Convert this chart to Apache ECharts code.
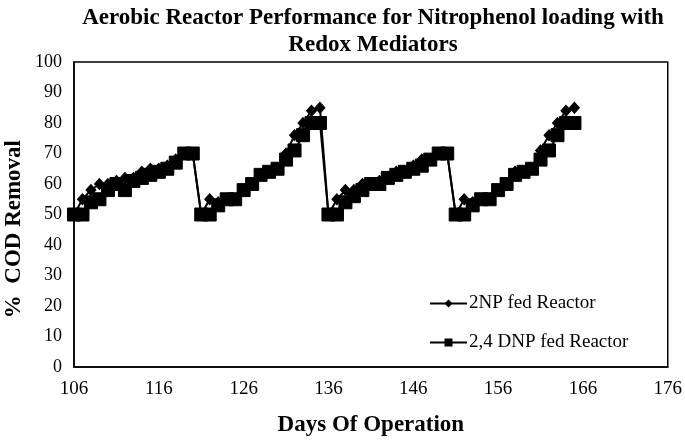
<!DOCTYPE html>
<html>
<head>
<meta charset="utf-8">
<script src="https://cdn.jsdelivr.net/npm/echarts@6/dist/echarts.min.js"></script>
<style>
html,body{margin:0;padding:0;background:#fff;}
#c{width:685px;height:445px;}
</style>
</head>
<body>
<div id="c"></div>
<script>
const days = [106,107,108,109,110,111,112,113,114,115,116,117,118,119,120,
              121,122,123,124,125,126,127,128,129,130,131,132,133,134,135,
              136,137,138,139,140,141,142,143,144,145,146,147,148,149,150,
              151,152,153,154,155,156,157,158,159,160,161,162,163,164,165];
const np2Values = [50,55,58,60,60,61,62,62,64,65,65,66,68,70,70,
                   50,55,54,55,55,58,60,63,64,65,70,76,80,84,85,
                   50,55,58,58,60,60,61,62,64,64,66,68,68,70,70,
                   50,55,54,55,55,58,60,64,64,65,71,76,80,84,85];
const dnpValues = [50,50,54,55,58,60,58,61,62,63,64,65,67,70,70,
                   50,50,53,55,55,58,60,63,64,65,68,71,76,80,80,
                   50,50,54,56,58,60,60,62,63,64,65,66,68,70,70,
                   50,50,53,55,55,58,60,63,64,65,68,71,76,80,80];
const xTicks = [106,116,126,136,146,156,166,176];
const yTicks = [0,10,20,30,40,50,60,70,80,90,100];
const seriesNames = ['2NP fed Reactor','2,4 DNP fed Reactor'];
const titleText = 'Aerobic Reactor Performance for Nitrophenol loading with\nRedox Mediators';
const xName = 'Days Of Operation';
const yName = '%  COD Removal';

const SERIF = '"Liberation Serif", "Times New Roman", serif';
const chart = echarts.init(document.getElementById('c'), null, {renderer:'canvas'});
const pair = (vals) => days.map((d,i)=>[d, vals[i]]);

chart.setOption({
  backgroundColor:'#fff',
  animation:false,
  title:{
    text:titleText,
    left:368, top:0, textAlign:'center',
    textStyle:{fontFamily:SERIF, fontWeight:'bold', fontSize:23, lineHeight:27, color:'#000'}
  },
  grid:{left:74, right:16, top:62, bottom:78, show:true, borderColor:'#000', borderWidth:1.5, backgroundColor:'transparent'},
  xAxis:{
    type:'value', min:106, max:176,
    name:xName, nameLocation:'middle', nameGap:47,
    nameTextStyle:{fontFamily:SERIF, fontWeight:'bold', fontSize:23, color:'#000'},
    axisLine:{show:true, lineStyle:{color:'#000', width:1.5}},
    axisTick:{show:false},
    splitLine:{show:false},
    axisLabel:{customValues:xTicks, fontFamily:SERIF, fontSize:19, color:'#000', margin:13}
  },
  yAxis:{
    type:'value', min:0, max:100, interval:10,
    axisLine:{show:true, lineStyle:{color:'#000', width:1.5}},
    axisTick:{show:false},
    splitLine:{show:false},
    axisLabel:{fontFamily:SERIF, fontSize:18, color:'#000', margin:12}
  },
  legend:{
    orient:'vertical', left:424, top:289, itemGap:20,
    itemWidth:37, itemHeight:10,
    textStyle:{fontFamily:SERIF, fontSize:19, color:'#000', padding:[0,0,0,-3]},
    data:seriesNames
  },
  graphic:[{
    type:'text', left:3, top:140,
    rotation:Math.PI/2,
    style:{text:yName, fontFamily:SERIF, fontWeight:'bold', fontSize:23, fill:'#000'}
  }],
  series:[
    {name:seriesNames[0], type:'line', data:pair(np2Values),
     symbol:'diamond', symbolSize:[10,11], showAllSymbol:true,
     lineStyle:{color:'#000', width:2}, itemStyle:{color:'#000', borderColor:'#000'}},
    {name:seriesNames[1], type:'line', data:pair(dnpValues),
     symbol:'rect', symbolSize:13, showAllSymbol:true,
     lineStyle:{color:'#000', width:2}, itemStyle:{color:'#000', borderColor:'#000'}}
  ]
});
</script>
</body>
</html>
